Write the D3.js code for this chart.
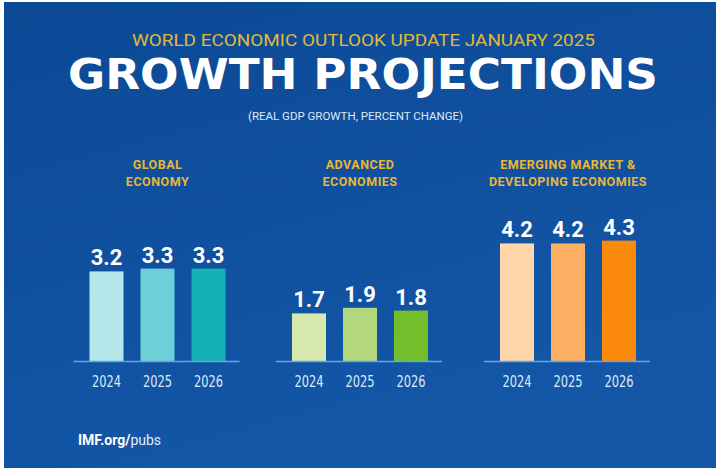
<!DOCTYPE html>
<html>
<head>
<meta charset="utf-8">
<script src="https://cdn.jsdelivr.net/npm/d3@7"></script>
<style>
  html, body { margin: 0; padding: 0; background: #ffffff; }
  svg { display: block; }
</style>
</head>
<body>
<div id="chart"></div>
<script>
// ---- Data ----
const years = ["2024", "2025", "2026"];
const panelTitles = [
  ["GLOBAL", "ECONOMY"],
  ["ADVANCED", "ECONOMIES"],
  ["EMERGING MARKET &", "DEVELOPING ECONOMIES"]
];
const globalValues = [3.2, 3.3, 3.3];
const advancedValues = [1.7, 1.9, 1.8];
const emergingValues = [4.2, 4.2, 4.3];
const seriesValues = [globalValues, advancedValues, emergingValues];
const supTitle = "WORLD ECONOMIC OUTLOOK UPDATE JANUARY 2025";
const mainTitle = "GROWTH PROJECTIONS";
const subTitle = "(REAL GDP GROWTH, PERCENT CHANGE)";

// ---- Layout / style ----
const W = 717, H = 468;
const panelCenters = [157.5, 360, 568];
const barColors = [
  ["#b4e6ec", "#6dd0d8", "#14b2b4"],
  ["#d6e8ab", "#b3d77c", "#74be2c"],
  ["#fed6aa", "#fdaf64", "#fb8a0c"]
];
const baseY = 361;
const gold = "#eab634";

const svg = d3.select("#chart").append("svg")
  .attr("width", W).attr("height", H);

const defs = svg.append("defs");
const grad = defs.append("linearGradient").attr("id", "bg")
  .attr("x1", "0").attr("y1", "0").attr("x2", "0.4").attr("y2", "1");
grad.append("stop").attr("offset", "0%").attr("stop-color", "#0b4995");
grad.append("stop").attr("offset", "100%").attr("stop-color", "#1457a7");

svg.append("rect").attr("x", 4).attr("y", 2).attr("width", 712).attr("height", 466)
  .attr("fill", "url(#bg)");

// Titles
svg.append("text").attr("x", 363.5).attr("y", 46)
  .attr("text-anchor", "middle")
  .attr("font-family", "Roboto, 'Liberation Sans', sans-serif")
  .attr("font-size", 16.5).attr("fill", "#e2b83c")
  .attr("textLength", 463).attr("lengthAdjust", "spacingAndGlyphs")
  .text(supTitle);

svg.append("text").attr("x", 363).attr("y", 89)
  .attr("text-anchor", "middle")
  .attr("font-family", "'DejaVu Sans', sans-serif")
  .attr("font-weight", 900)
  .attr("font-size", 42).attr("fill", "#ffffff")
  .attr("textLength", 590).attr("lengthAdjust", "spacingAndGlyphs")
  .text(mainTitle);

svg.append("text").attr("x", 355.5).attr("y", 120)
  .attr("text-anchor", "middle")
  .attr("font-family", "Roboto, 'Liberation Sans', sans-serif")
  .attr("font-size", 11).attr("fill", "#dfe8f5")
  .attr("textLength", 215).attr("lengthAdjust", "spacingAndGlyphs")
  .text(subTitle);

// Shared y scale
const y = d3.scaleLinear().domain([0, 5]).range([baseY, baseY - 140]);

seriesValues.forEach((vals, i) => {
  const cx = panelCenters[i];
  const x = d3.scaleBand().domain(years)
    .range([cx - 68, cx + 68]).paddingInner(1 / 3).paddingOuter(0);
  const g = svg.append("g");

  // panel title
  panelTitles[i].forEach((line, j) => {
    g.append("text").attr("x", cx).attr("y", 169 + j * 16.5)
      .attr("text-anchor", "middle")
      .attr("font-family", "Roboto, 'Open Sans', sans-serif")
      .attr("font-weight", 700).attr("font-size", 12.5)
      .attr("letter-spacing", 0.5)
      .attr("fill", gold).text(line);
  });

  // bars
  g.selectAll("rect.bar").data(vals).join("rect")
    .attr("class", "bar")
    .attr("x", (d, k) => x(years[k]))
    .attr("width", x.bandwidth())
    .attr("y", d => y(d))
    .attr("height", d => y(0) - y(d))
    .attr("fill", (d, k) => barColors[i][k]);

  // value labels
  g.selectAll("text.val").data(vals).join("text")
    .attr("class", "val")
    .attr("x", (d, k) => x(years[k]) + x.bandwidth() / 2)
    .attr("y", d => y(d) - 6)
    .attr("text-anchor", "middle")
    .attr("font-family", "Roboto, 'Open Sans', sans-serif")
    .attr("font-weight", 700).attr("font-size", 22)
    .attr("fill", "#ffffff")
    .text(d => d.toFixed(1));

  // baseline
  g.append("line")
    .attr("x1", cx - 84).attr("x2", cx + 82)
    .attr("y1", baseY + 0.5).attr("y2", baseY + 0.5)
    .attr("stroke", "#5fa6e6").attr("stroke-width", 1.5);

  // year axis labels
  const axis = d3.axisBottom(x).tickSize(0).tickPadding(0);
  const ax = g.append("g").attr("transform", `translate(0, ${baseY})`).call(axis);
  ax.select(".domain").remove();
  ax.selectAll("text")
    .attr("y", 26).attr("dy", 0)
    .attr("font-family", "'Liberation Sans Narrow', 'DejaVu Sans Condensed', Roboto, sans-serif")
    .attr("font-size", 16).attr("fill", "#dfeaf6")
    .attr("textLength", 29).attr("lengthAdjust", "spacingAndGlyphs");
});

// footer
const foot = svg.append("text").attr("x", 78).attr("y", 445)
  .attr("font-family", "Roboto, 'Open Sans', sans-serif")
  .attr("font-size", 14).attr("fill", "#ffffff");
foot.append("tspan").attr("font-weight", 700).text("IMF.org/");
foot.append("tspan").attr("font-weight", 400).attr("fill", "#e6eef8").text("pubs");
</script>
</body>
</html>
